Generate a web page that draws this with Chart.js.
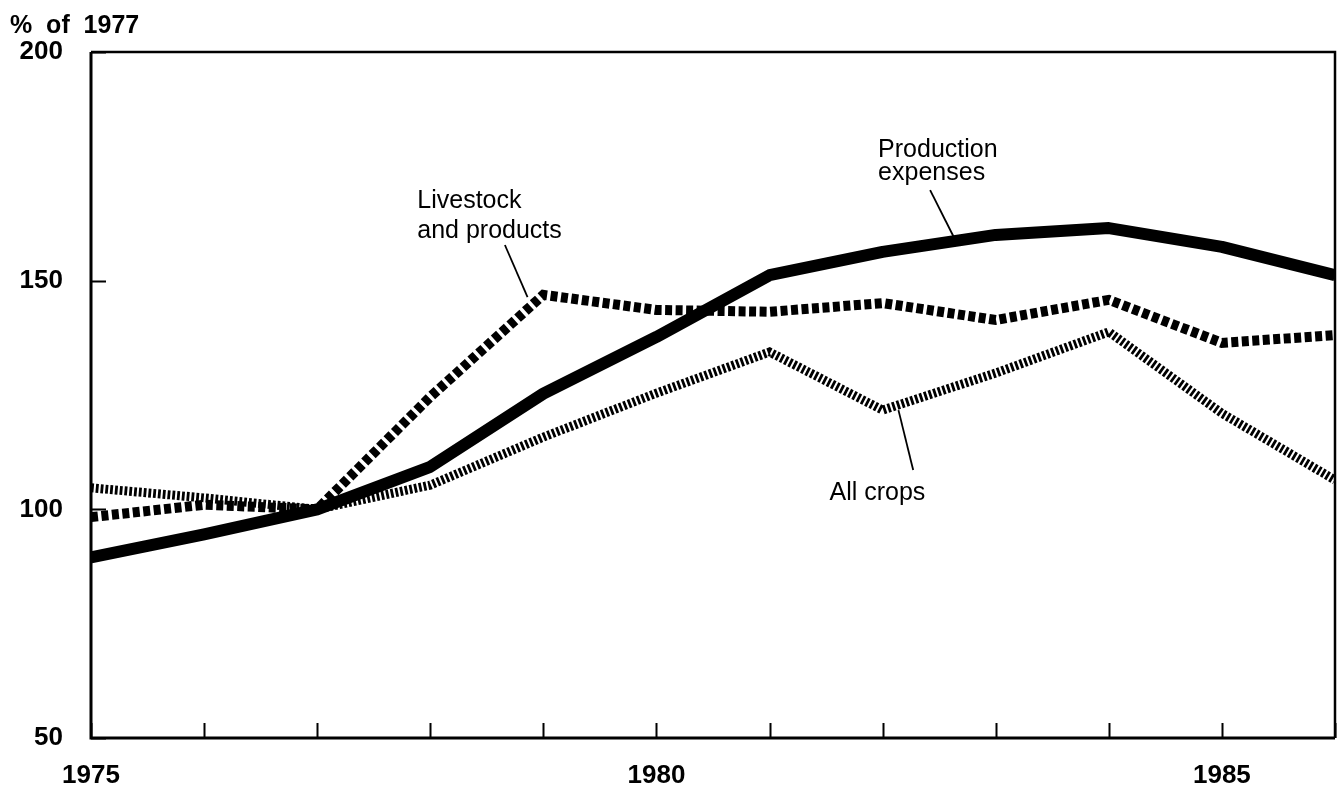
<!DOCTYPE html>
<html>
<head>
<meta charset="utf-8">
<script src="https://cdn.jsdelivr.net/npm/chart.js@4.4.1/dist/chart.umd.min.js"></script>
<style>
  html, body { margin: 0; padding: 0; background: #ffffff; }
  #wrap { width: 1337px; height: 789px; position: relative; }
</style>
</head>
<body>
<div id="wrap"><canvas id="c" width="1337" height="789"></canvas></div>
<script>
// ---- Data ----
const years = [1975, 1976, 1977, 1978, 1979, 1980, 1981, 1982, 1983, 1984, 1985, 1986];
const productionExpenses = [89.5, 94.5, 100, 109.3, 125.3, 137.7, 151.2, 156.3, 160.0, 161.5, 157.4, 151.2];
const livestockProducts  = [98.3, 101.0, 100, 124.6, 146.9, 143.6, 143.2, 145.1, 141.4, 145.8, 136.4, 138.1];
const allCrops           = [104.7, 102.5, 100, 105.3, 115.8, 125.4, 134.4, 121.7, 129.8, 138.8, 121.0, 106.4];
const yTicks = [50, 100, 150, 200];
const xLabelYears = [1975, 1980, 1985];
const axisTitle = '%  of  1977';

// Annotation labels (positions in data units) with leader lines
const annotations = [
  { lines: ['Livestock', 'and products'], x: 1977.885, y: [165.9, 159.3], leader: [[1978.66, 157.8], [1978.86, 146.4]] },
  { lines: ['Production', 'expenses'],   x: 1981.96,  y: [177.0, 172.0], leader: [[1982.42, 169.8], [1982.64, 159.0]] },
  { lines: ['All crops'],                x: 1981.53,  y: [102.0],        leader: [[1982.14, 121.7], [1982.27, 108.6]] }
];

const FONT = "'Liberation Sans', Arial, Helvetica, sans-serif";

const toPts = arr => arr.map((v, i) => ({ x: years[i], y: v }));

const framePlugin = {
  id: 'frame',
  afterDatasetsDraw(chart) {
    const { ctx, chartArea: a, scales } = chart;
    const xs = scales.x, ys = scales.y;
    ctx.save();
    ctx.strokeStyle = '#000';
    // box
    ctx.lineWidth = 3;
    ctx.beginPath();
    ctx.moveTo(a.left, a.top); ctx.lineTo(a.left, a.bottom); ctx.lineTo(a.right, a.bottom);
    ctx.stroke();
    ctx.lineWidth = 2.5;
    ctx.beginPath();
    ctx.moveTo(a.left, a.top); ctx.lineTo(a.right, a.top); ctx.lineTo(a.right, a.bottom);
    ctx.stroke();
    // inward ticks
    ctx.lineWidth = 2;
    ctx.beginPath();
    years.forEach(yr => {
      const px = Math.round(xs.getPixelForValue(yr)) + 0.5;
      ctx.moveTo(px, a.bottom); ctx.lineTo(px, a.bottom - 15);
    });
    yTicks.forEach(v => {
      const py = Math.round(ys.getPixelForValue(v)) + 0.5;
      ctx.moveTo(a.left, py); ctx.lineTo(a.left + 15, py);
    });
    ctx.stroke();
    // annotations
    ctx.fillStyle = '#000';
    ctx.font = '25px ' + FONT;
    ctx.textBaseline = 'alphabetic';
    ctx.textAlign = 'left';
    ctx.lineWidth = 1.8;
    annotations.forEach(an => {
      an.lines.forEach((t, i) => {
        ctx.fillText(t, xs.getPixelForValue(an.x), ys.getPixelForValue(an.y[i]));
      });
      ctx.beginPath();
      ctx.moveTo(xs.getPixelForValue(an.leader[0][0]), ys.getPixelForValue(an.leader[0][1]));
      ctx.lineTo(xs.getPixelForValue(an.leader[1][0]), ys.getPixelForValue(an.leader[1][1]));
      ctx.stroke();
    });
    // axis title
    ctx.font = 'bold 25px ' + FONT;
    ctx.textBaseline = 'alphabetic';
    ctx.fillText(axisTitle, 10, 33);
    ctx.restore();
  }
};

new Chart(document.getElementById('c'), {
  type: 'line',
  data: {
    datasets: [
      {
        label: 'All crops',
        data: toPts(allCrops),
        borderColor: '#000',
        borderWidth: 9,
        borderDash: [2.8, 2],
        borderCapStyle: 'butt',
        pointRadius: 0,
        tension: 0,
        order: 3
      },
      {
        label: 'Livestock and products',
        data: toPts(livestockProducts),
        borderColor: '#000',
        borderWidth: 10,
        borderDash: [7, 3.5],
        borderCapStyle: 'butt',
        pointRadius: 0,
        tension: 0,
        order: 2
      },
      {
        label: 'Production expenses',
        data: toPts(productionExpenses),
        borderColor: '#000',
        borderWidth: 12,
        borderCapStyle: 'butt',
        borderJoinStyle: 'round',
        pointRadius: 0,
        tension: 0,
        order: 1
      }
    ]
  },
  options: {
    responsive: false,
    animation: false,
    devicePixelRatio: 1,
    layout: { padding: { top: 52, right: 2, left: 0, bottom: 0 } },
    plugins: { legend: { display: false }, tooltip: { enabled: false }, title: { display: false } },
    scales: {
      x: {
        type: 'linear',
        min: 1975, max: 1986,
        border: { display: false },
        grid: { display: false, drawTicks: false },
        afterFit: s => { s.height = 51; },
        afterBuildTicks: s => { s.ticks = xLabelYears.map(v => ({ value: v })); },
        ticks: {
          autoSkip: false,
          maxRotation: 0,
          padding: 22,
          color: '#000',
          font: { family: FONT, size: 26, weight: 'bold' },
          callback: v => String(v)
        }
      },
      y: {
        type: 'linear',
        min: 50, max: 200,
        border: { display: false },
        grid: { display: false, drawTicks: false },
        afterFit: s => { s.width = 91; },
        afterBuildTicks: s => { s.ticks = yTicks.map(v => ({ value: v })); },
        ticks: {
          padding: 28,
          color: '#000',
          font: { family: FONT, size: 26, weight: 'bold' },
          callback: v => String(v)
        }
      }
    }
  },
  plugins: [framePlugin]
});
</script>
</body>
</html>
